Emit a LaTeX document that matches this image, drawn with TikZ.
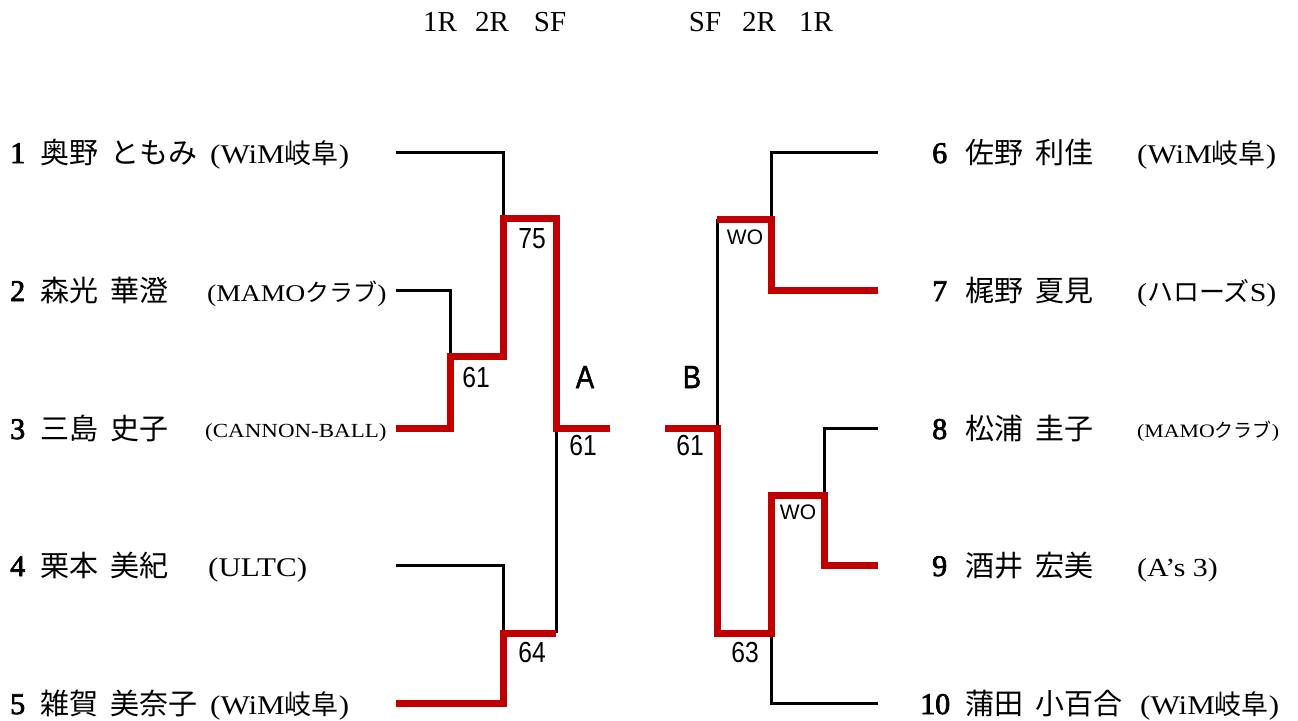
\documentclass[tikz,border=0pt]{standalone}
\usepackage{fontspec}
\setmainfont{Liberation Serif}
\newfontfamily\latf[FakeStretch=1.15]{Liberation Serif}
\newfontfamily\seedf[FakeBold=2.5]{Liberation Serif}
\newfontfamily\jp[WordSpace=1.9]{Noto Sans CJK JP}
\newfontfamily\scoref[FakeStretch=0.85]{Liberation Sans}
\newfontfamily\poolf[FakeStretch=0.85,FakeBold=1.5]{Liberation Sans}
\newfontfamily\wof{Liberation Sans}
\definecolor{winred}{HTML}{C00000}
\tikzset{
  lose/.style={line width=3pt, black, line join=miter},
  win/.style={line width=7pt, winred, line join=miter},
  seed/.style={anchor=base west, inner sep=0pt, font=\seedf\fontsize{30}{32}\selectfont},
  pname/.style={anchor=base west, inner sep=0pt, font=\jp\fontsize{29}{31}\selectfont},
  club/.style={anchor=base west, inner sep=0pt, font=\latf\fontsize{#1}{30}\selectfont},
  club/.default=27,
  rhead/.style={inner sep=0pt, font=\fontsize{29}{31}\selectfont},
  score/.style={inner sep=0pt, font=\scoref\fontsize{29}{31}\selectfont},
  pool/.style={inner sep=0pt, font=\poolf\fontsize{32}{34}\selectfont},
  wo/.style={inner sep=0pt, font=\wof\fontsize{21}{23}\selectfont},
}
\begin{document}
\begin{tikzpicture}[x=1pt,y=-1pt]
\useasboundingbox (0,0) rectangle (1298,720);

% headers
\node[rhead] (hl1) at (440,22) {1R};
\node[rhead] (hl2) at (492,22) {2R};
\node[rhead] (hl3) at (550,22) {SF};
\node[rhead] (hr3) at (705,22) {SF};
\node[rhead] (hr2) at (759,22) {2R};
\node[rhead] (hr1) at (816,22) {1R};

% left players
\node[seed] (s1) at (10,163) {1};
\node[pname] (n1) at (40,163) {奥野 ともみ};
\node[club] (c1) at (210,163) {(WiM{\jp 岐阜})};
\node[seed] (s2) at (10,301) {2};
\node[pname] (n2) at (40,301) {森光 華澄};
\node[club=24] (c2) at (207,301) {(MAMO{\jp クラブ})};
\node[seed] (s3) at (10,439) {3};
\node[pname] (n3) at (40,439) {三島 史子};
\node[club=20] (c3) at (205,437) {(CANNON-BALL)};
\node[seed] (s4) at (10,576) {4};
\node[pname] (n4) at (40,576) {栗本 美紀};
\node[club] (c4) at (208,576) {(ULTC)};
\node[seed] (s5) at (10,714) {5};
\node[pname] (n5) at (40,714) {雑賀 美奈子};
\node[club] (c5) at (210,714) {(WiM{\jp 岐阜})};

% right players
\node[seed] (s6) at (932,163) {6};
\node[pname] (n6) at (965,163) {佐野 利佳};
\node[club] (c6) at (1137,163) {(WiM{\jp 岐阜})};
\node[seed] (s7) at (932,301) {7};
\node[pname] (n7) at (965,301) {梶野 夏見};
\node[club=26] (c7) at (1137,301) {({\jp ハローズ}S)};
\node[seed] (s8) at (932,439) {8};
\node[pname] (n8) at (965,439) {松浦 圭子};
\node[club=19] (c8) at (1137,437) {(MAMO{\jp クラブ})};
\node[seed] (s9) at (932,576) {9};
\node[pname] (n9) at (965,576) {酒井 宏美};
\node[club=26] (c9) at (1137,576) {(A’s 3)};
\node[seed] (s10) at (920,714) {10};
\node[pname] (n10) at (965,714) {蒲田 小百合};
\node[club] (c10) at (1140,714) {(WiM{\jp 岐阜})};

% bracket points, left
\coordinate (e1) at (396,152);
\coordinate (e2) at (396,290);
\coordinate (e3) at (396,428);
\coordinate (e4) at (396,565);
\coordinate (e5) at (396,703);
\coordinate (m23) at (450,356);
\coordinate (m123) at (503,218);
\coordinate (m45) at (503,633);
\coordinate (sfL) at (556,428);
\coordinate (sfLb) at (556,633);
\coordinate (fA) at (610,428);
% bracket points, right
\coordinate (e6) at (878,152);
\coordinate (e7) at (878,290);
\coordinate (e8) at (878,428);
\coordinate (e9) at (878,565);
\coordinate (e10) at (878,703);
\coordinate (m67) at (771,219);
\coordinate (sfRt) at (717,219);
\coordinate (m89) at (824,495);
\coordinate (m8910) at (771,633);
\coordinate (sfR) at (717,428);
\coordinate (fB) at (665,428);

% losing lines
\draw[lose] (e1) -| (m123);
\draw[lose] (e2) -| (m23);
\draw[lose] (e4) -| (m45);
\draw[lose] (sfL) -- (sfLb);
\draw[lose] (e6) -| (m67);
\draw[lose] (sfRt) -- (sfR);
\draw[lose] (e8) -| (m89);
\draw[lose] (e10) -| (m8910);

% winning lines
\draw[win] (e3) -| (m23) -| (m123) -| (sfL) -- (fA);
\draw[win] (e5) -| (m45) -- (sfLb);
\draw[win] (e7) -| (m67) -- (sfRt);
\draw[win] (e9) -| (m89) -| (m8910) -| (sfR) -- (fB);

% scores
\node[score] (k75) at (532,239) {75};
\node[score] (k61a) at (476,378) {61};
\node[pool] (pA) at (585,377) {A};
\node[score] (k61b) at (583,446) {61};
\node[score] (k64) at (532,653) {64};
\node[wo] (w1) at (745,237) {WO};
\node[pool] (pB) at (692,377) {B};
\node[score] (k61c) at (690,446) {61};
\node[wo] (w2) at (798,512) {WO};
\node[score] (k63) at (745,653) {63};
\end{tikzpicture}
\end{document}
